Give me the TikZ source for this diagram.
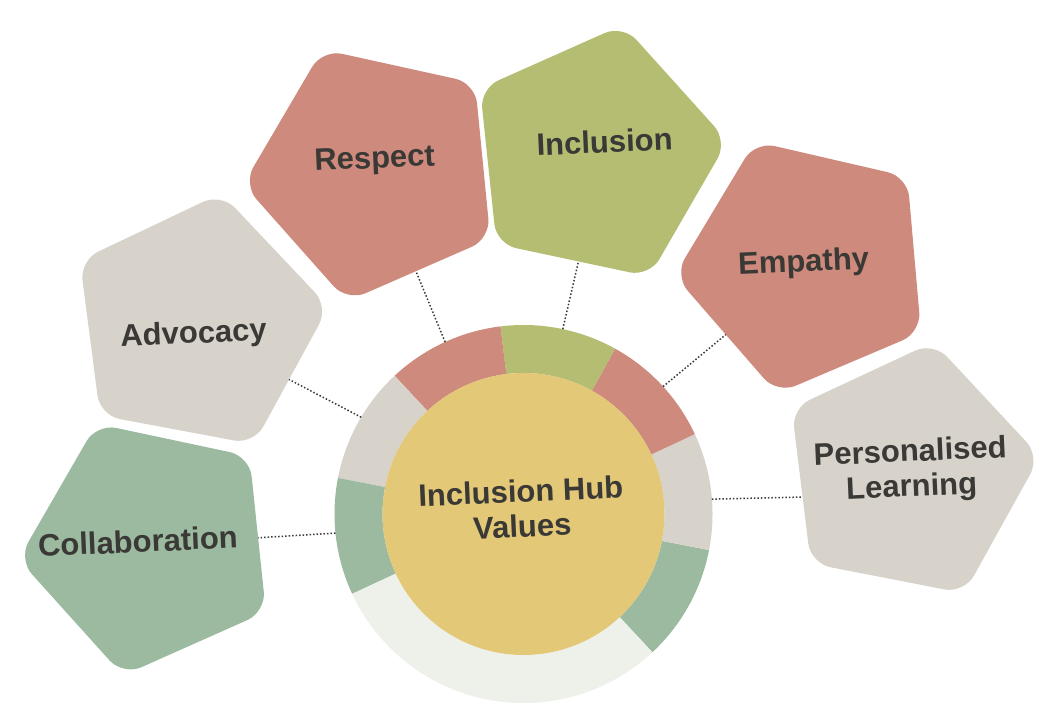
\documentclass[tikz,border=0pt]{standalone}
\usepackage{fontspec}
\setmainfont{Liberation Sans}
\usetikzlibrary{shapes.geometric,calc}
\definecolor{cred}{HTML}{CE8A7C}
\definecolor{colive}{HTML}{B5BD73}
\definecolor{cbeige}{HTML}{D7D2CA}
\definecolor{cgreen}{HTML}{9BBAA0}
\definecolor{cyellow}{HTML}{E3C878}
\definecolor{clight}{HTML}{EEF0EA}
\definecolor{ink}{HTML}{3A3936}
\begin{document}
\begin{tikzpicture}[x=1pt,y=1pt,
  pent/.style={regular polygon, regular polygon sides=5, minimum size=266pt, inner sep=0pt, outer sep=0pt, rounded corners=20pt, draw=none},
  lbl/.style={font=\bfseries\fontsize{31}{35}\selectfont, text=ink, rotate=2.5, align=center, inner sep=0pt},
  conn/.style={draw=ink, line width=1.5pt, dash pattern=on 1.5pt off 2pt}]
\useasboundingbox (0,0) rectangle (1046,720);
\fill[white] (0,0) rectangle (1046,720);
\coordinate (C) at (523.5,206);
% ring
\foreach \a/\b/\c in {-47/-11/cgreen, -11/25/cbeige, 25/61/cred, 61/97/colive, 97/133/cred, 133/169/cbeige, 169/205/cgreen, 205/313/clight}
  \fill[\c] ($(C)+(\a:189)$) arc[start angle=\a, end angle=\b, radius=189] -- ($(C)+(\b:141)$) arc[start angle=\b, end angle=\a, radius=141] -- cycle;
\node[circle, fill=cyellow, minimum size=282pt, inner sep=0pt] (hub) at (C) {};
\node[lbl] (hubtext) at (521.5,211.5) {Inclusion Hub\\Values};
% pentagons
\node[pent, fill=cgreen, shape border rotate=24] (collab) at (150.7,174.7) {};
\node[pent, fill=cbeige, shape border rotate=-10.6] (advo) at (196.7,396) {};
\node[pent, fill=cred, shape border rotate=23.6] (resp) at (375.6,548.6) {};
\node[pent, fill=colive, shape border rotate=-12] (incl) at (595.3,565) {};
\node[pent, fill=cred, shape border rotate=23] (emp) at (807,456) {};
\node[pent, fill=cbeige, shape border rotate=-11] (pers) at (908,247.3) {};
% labels
\node[lbl, anchor=base] (tcollab) at (138.3,167.7) {Collaboration};
\node[lbl, anchor=base] (tadvo) at (194,376.7) {Advocacy};
\node[lbl, anchor=base] (tresp) at (375,551.7) {Respect};
\node[lbl, anchor=base] (tincl) at (605,567.3) {Inclusion};
\node[lbl, anchor=base] (temp) at (804,448.3) {Empathy};
\node[lbl] (tpers) at (911,249) {Personalised\\Learning};
% connectors
\coordinate (rcollab) at ($(C)+(185.8:189)$);
\coordinate (radvo) at ($(C)+(149.2:189)$);
\coordinate (rresp) at ($(C)+(114.5:189)$);
\coordinate (rincl) at ($(C)+(78:189)$);
\coordinate (remp) at ($(C)+(42.4:189)$);
\coordinate (rpers) at ($(C)+(4.5:189)$);
\draw[conn] (rcollab) -- (collab.4.5);
\draw[conn] (radvo) -- (advo.-31.3);
\draw[conn] (rresp) -- (resp.-68.8);
\draw[conn] (rincl) -- (incl.-99.7);
\draw[conn] (remp) -- (emp.221.1);
\draw[conn] (rpers) -- (pers.193);
\end{tikzpicture}
\end{document}
